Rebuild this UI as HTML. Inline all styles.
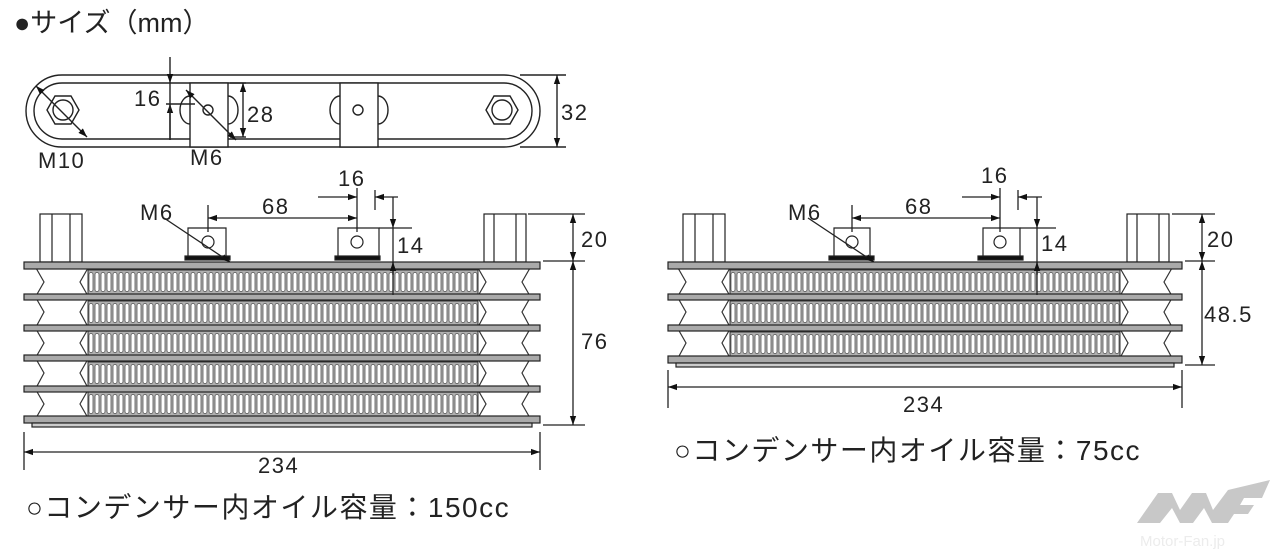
<!DOCTYPE html>
<html><head><meta charset="utf-8"><style>
html,body{margin:0;padding:0;background:#fff;width:1280px;height:560px;overflow:hidden}
svg{display:block}
text{font-family:"Liberation Sans","Noto Sans CJK JP",sans-serif;fill:#222}
.d{font-size:22px;letter-spacing:1.5px}
.c{font-size:28px;letter-spacing:1.5px}
</style></head><body>
<svg width="1280" height="560" viewBox="0 0 1280 560" xmlns="http://www.w3.org/2000/svg">
<defs>
<pattern id="fins" x="0" y="0" width="6" height="24" patternUnits="userSpaceOnUse">
<rect x="0" y="0" width="6" height="24" fill="#b0b0b0"/>
<rect x="1" y="2.5" width="4" height="19" rx="2" fill="#fff" stroke="#555" stroke-width="0.8"/>
</pattern>
<marker id="a" viewBox="0 0 10 10" refX="10" refY="5" markerWidth="9" markerHeight="9" orient="auto-start-reverse" markerUnits="userSpaceOnUse"><path d="M0,1.5 L10,5 L0,8.5z" fill="#111"/></marker>
</defs>
<text x="14" y="32" font-size="27">●サイズ（mm）</text>

<!-- TOP VIEW -->
<g stroke="#222" fill="none" stroke-width="1.4">
<rect x="26" y="75" width="514" height="72" rx="36" fill="#fff"/>
<rect x="34" y="83" width="498" height="56" rx="28"/>
<polygon points="47,110 55,96 71,96 79,110 71,124 55,124"/>
<circle cx="63" cy="110" r="10"/>
<polygon points="486,110 494,96 510,96 518,110 510,124 494,124"/>
<circle cx="502" cy="110" r="10"/>
<rect x="190" y="83" width="38" height="64" fill="#fff"/>
<path d="M190,96 A10,14 0 0 0 190,124 M228,96 A10,14 0 0 1 228,124"/>
<circle cx="208" cy="110" r="5"/>
<rect x="340" y="83" width="38" height="64" fill="#fff"/>
<path d="M340,96 A10,14 0 0 0 340,124 M378,96 A10,14 0 0 1 378,124"/>
<circle cx="358" cy="110" r="5"/>
<line x1="520" y1="75" x2="566" y2="75"/><line x1="520" y1="147" x2="566" y2="147"/>
<line x1="557" y1="75" x2="557" y2="147" marker-start="url(#a)" marker-end="url(#a)"/>
<line x1="230" y1="83" x2="246" y2="83"/><line x1="230" y1="137" x2="246" y2="137"/>
<line x1="243" y1="83" x2="243" y2="137" marker-start="url(#a)" marker-end="url(#a)"/>
<line x1="170" y1="57" x2="170" y2="83" marker-end="url(#a)"/>
<line x1="170" y1="140" x2="170" y2="104" marker-end="url(#a)"/>
<line x1="170" y1="83" x2="170" y2="140"/>
<line x1="166" y1="104" x2="195" y2="104"/>
<line x1="36" y1="86" x2="87" y2="137" marker-start="url(#a)" marker-end="url(#a)"/>
<line x1="186" y1="90" x2="236" y2="140" marker-start="url(#a)" marker-end="url(#a)"/>
</g>
<text x="134" y="106" class="d">16</text>
<text x="247" y="122" class="d">28</text>
<text x="561" y="120" class="d">32</text>
<text x="38" y="168" class="d">M10</text>
<text x="190" y="165" class="d">M6</text>

<!-- LEFT COOLER -->
<g stroke="#222" stroke-width="1.2">
<rect x="40" y="214" width="42" height="48" fill="#fff"/>
<line x1="52" y1="214" x2="52" y2="262"/><line x1="70" y1="214" x2="70" y2="262"/>
<rect x="484" y="214" width="42" height="48" fill="#fff"/>
<line x1="494" y1="214" x2="494" y2="262"/><line x1="516" y1="214" x2="516" y2="262"/>
<path d="M188,258 V228 H226 V258" fill="#fff"/>
<circle cx="208" cy="242" r="6" fill="#fff"/>
<rect x="185" y="256" width="45" height="4" fill="#111"/>
<path d="M338,258 V228 H379 V258" fill="#fff"/>
<circle cx="357" cy="242" r="6" fill="#fff"/>
<rect x="335" y="256" width="45" height="4" fill="#111"/>
</g>
<g stroke="#333" stroke-width="1">
<rect x="0" y="0" width="390" height="24" fill="url(#fins)" transform="translate(88,270)"/>
<rect x="0" y="0" width="390" height="24" fill="url(#fins)" transform="translate(88,301)"/>
<rect x="0" y="0" width="390" height="24" fill="url(#fins)" transform="translate(88,331)"/>
<rect x="0" y="0" width="390" height="24" fill="url(#fins)" transform="translate(88,362)"/>
<rect x="0" y="0" width="390" height="24" fill="url(#fins)" transform="translate(88,392)"/>
</g>
<g stroke="#333" stroke-width="1.2" fill="#fff">
<polygon points="36,268 88,268 80,282 88,296 36,296 44,282"/>
<polygon points="36,298 88,298 80,312 88,327 36,327 44,312"/>
<polygon points="36,329 88,329 80,343 88,357 36,357 44,343"/>
<polygon points="36,359 88,359 80,373 88,388 36,388 44,373"/>
<polygon points="36,390 88,390 80,404 88,418 36,418 44,404"/>
<polygon points="478,268 530,268 522,282 530,296 478,296 486,282"/>
<polygon points="478,298 530,298 522,312 530,327 478,327 486,312"/>
<polygon points="478,329 530,329 522,343 530,357 478,357 486,343"/>
<polygon points="478,359 530,359 522,373 530,388 478,388 486,373"/>
<polygon points="478,390 530,390 522,404 530,418 478,418 486,404"/>
</g>
<g stroke="#222" stroke-width="1.2" fill="#aaa">
<rect x="24" y="262" width="516" height="7"/>
<rect x="24" y="294" width="516" height="6"/>
<rect x="24" y="325" width="516" height="6"/>
<rect x="24" y="355" width="516" height="6"/>
<rect x="24" y="386" width="516" height="6"/>
<rect x="24" y="416" width="516" height="7"/>
<rect x="32" y="423" width="500" height="4" fill="#ccc"/>
</g>
<g stroke="#222" fill="none" stroke-width="1.3">
<line x1="208" y1="205" x2="208" y2="232"/>
<line x1="357" y1="188" x2="357" y2="232"/>
<line x1="208" y1="218" x2="357" y2="218" marker-start="url(#a)" marker-end="url(#a)"/>
<line x1="375" y1="190" x2="375" y2="210"/>
<line x1="318" y1="197" x2="357" y2="197" marker-end="url(#a)"/>
<line x1="398" y1="197" x2="375" y2="197" marker-end="url(#a)"/>
<line x1="393" y1="197" x2="393" y2="228" marker-end="url(#a)"/>
<line x1="393" y1="228" x2="393" y2="275"/>
<line x1="393" y1="295" x2="393" y2="262" marker-end="url(#a)"/>
<line x1="379" y1="228" x2="412" y2="228"/>
<line x1="164" y1="218" x2="230" y2="262" marker-end="url(#a)"/>
<line x1="528" y1="214" x2="585" y2="214"/><line x1="543" y1="261" x2="585" y2="261"/>
<line x1="573" y1="214" x2="573" y2="261" marker-start="url(#a)" marker-end="url(#a)"/>
<line x1="543" y1="425" x2="585" y2="425"/>
<line x1="573" y1="261" x2="573" y2="425" marker-start="url(#a)" marker-end="url(#a)"/>
<line x1="24" y1="432" x2="24" y2="470"/><line x1="540" y1="432" x2="540" y2="470"/>
<line x1="24" y1="452" x2="540" y2="452" marker-start="url(#a)" marker-end="url(#a)"/>
</g>
<text x="140" y="220" class="d">M6</text>
<text x="262" y="214" class="d">68</text>
<text x="338" y="186" class="d">16</text>
<text x="397" y="253" class="d">14</text>
<text x="581" y="247" class="d">20</text>
<text x="581" y="349" class="d">76</text>
<text x="258" y="473" class="d">234</text>
<text x="26" y="517" class="c">○コンデンサー内オイル容量：150cc</text>

<!-- RIGHT COOLER -->
<g stroke="#222" stroke-width="1.2">
<rect x="683" y="214" width="42" height="48" fill="#fff"/>
<line x1="695" y1="214" x2="695" y2="262"/><line x1="713" y1="214" x2="713" y2="262"/>
<rect x="1127" y="214" width="42" height="48" fill="#fff"/>
<line x1="1137" y1="214" x2="1137" y2="262"/><line x1="1159" y1="214" x2="1159" y2="262"/>
<path d="M834,258 V228 H870 V258" fill="#fff"/>
<circle cx="852" cy="242" r="6" fill="#fff"/>
<rect x="829" y="256" width="45" height="4" fill="#111"/>
<path d="M983,258 V228 H1020 V258" fill="#fff"/>
<circle cx="1000" cy="242" r="6" fill="#fff"/>
<rect x="978" y="256" width="45" height="4" fill="#111"/>
</g>
<g stroke="#333" stroke-width="1">
<rect x="0" y="0" width="390" height="24" fill="url(#fins)" transform="translate(730,270)"/>
<rect x="0" y="0" width="390" height="24" fill="url(#fins)" transform="translate(730,301)"/>
<rect x="0" y="0" width="390" height="24" fill="url(#fins)" transform="translate(730,332)"/>
</g>
<g stroke="#333" stroke-width="1.2" fill="#fff">
<polygon points="678,268 730,268 722,282 730,296 678,296 686,282"/>
<polygon points="678,298 730,298 722,312 730,327 678,327 686,312"/>
<polygon points="678,329 730,329 722,343 730,358 678,358 686,343"/>
<polygon points="1120,268 1172,268 1164,282 1172,296 1120,296 1128,282"/>
<polygon points="1120,298 1172,298 1164,312 1172,327 1120,327 1128,312"/>
<polygon points="1120,329 1172,329 1164,343 1172,358 1120,358 1128,343"/>
</g>
<g stroke="#222" stroke-width="1.2" fill="#aaa">
<rect x="668" y="262" width="514" height="7"/>
<rect x="668" y="294" width="514" height="6"/>
<rect x="668" y="325" width="514" height="6"/>
<rect x="668" y="356" width="514" height="7"/>
<rect x="676" y="363" width="498" height="4" fill="#ccc"/>
</g>
<g stroke="#222" fill="none" stroke-width="1.3">
<line x1="852" y1="205" x2="852" y2="232"/>
<line x1="1000" y1="188" x2="1000" y2="232"/>
<line x1="852" y1="218" x2="1000" y2="218" marker-start="url(#a)" marker-end="url(#a)"/>
<line x1="1018" y1="190" x2="1018" y2="210"/>
<line x1="962" y1="197" x2="1000" y2="197" marker-end="url(#a)"/>
<line x1="1042" y1="197" x2="1018" y2="197" marker-end="url(#a)"/>
<line x1="1037" y1="197" x2="1037" y2="228" marker-end="url(#a)"/>
<line x1="1037" y1="228" x2="1037" y2="275"/>
<line x1="1037" y1="295" x2="1037" y2="262" marker-end="url(#a)"/>
<line x1="1020" y1="228" x2="1056" y2="228"/>
<line x1="808" y1="218" x2="874" y2="262" marker-end="url(#a)"/>
<line x1="1172" y1="214" x2="1215" y2="214"/><line x1="1185" y1="261" x2="1215" y2="261"/>
<line x1="1202" y1="214" x2="1202" y2="261" marker-start="url(#a)" marker-end="url(#a)"/>
<line x1="1185" y1="365" x2="1215" y2="365"/>
<line x1="1202" y1="261" x2="1202" y2="365" marker-start="url(#a)" marker-end="url(#a)"/>
<line x1="668" y1="370" x2="668" y2="408"/><line x1="1182" y1="370" x2="1182" y2="408"/>
<line x1="668" y1="387" x2="1182" y2="387" marker-start="url(#a)" marker-end="url(#a)"/>
</g>
<text x="788" y="220" class="d">M6</text>
<text x="905" y="214" class="d">68</text>
<text x="981" y="183" class="d">16</text>
<text x="1041" y="251" class="d">14</text>
<text x="1207" y="247" class="d">20</text>
<text x="1204" y="322" class="d">48.5</text>
<text x="903" y="412" class="d">234</text>
<text x="674" y="460" class="c">○コンデンサー内オイル容量：75cc</text>

<g fill="#c8c8c8">
<polygon points="1137,523 1158,493 1172,493 1180,510 1192,493 1206,493 1213,510 1228,490 1270,480 1262,498 1244,498 1240,505 1254,505 1248,514 1234,514 1228,523 1212,523 1204,508 1193,523 1180,523 1172,508 1160,523"/>
</g>
<text x="1140" y="546" font-size="15" style="fill:#ececec">Motor-Fan.jp</text>
</svg>
</body></html>
